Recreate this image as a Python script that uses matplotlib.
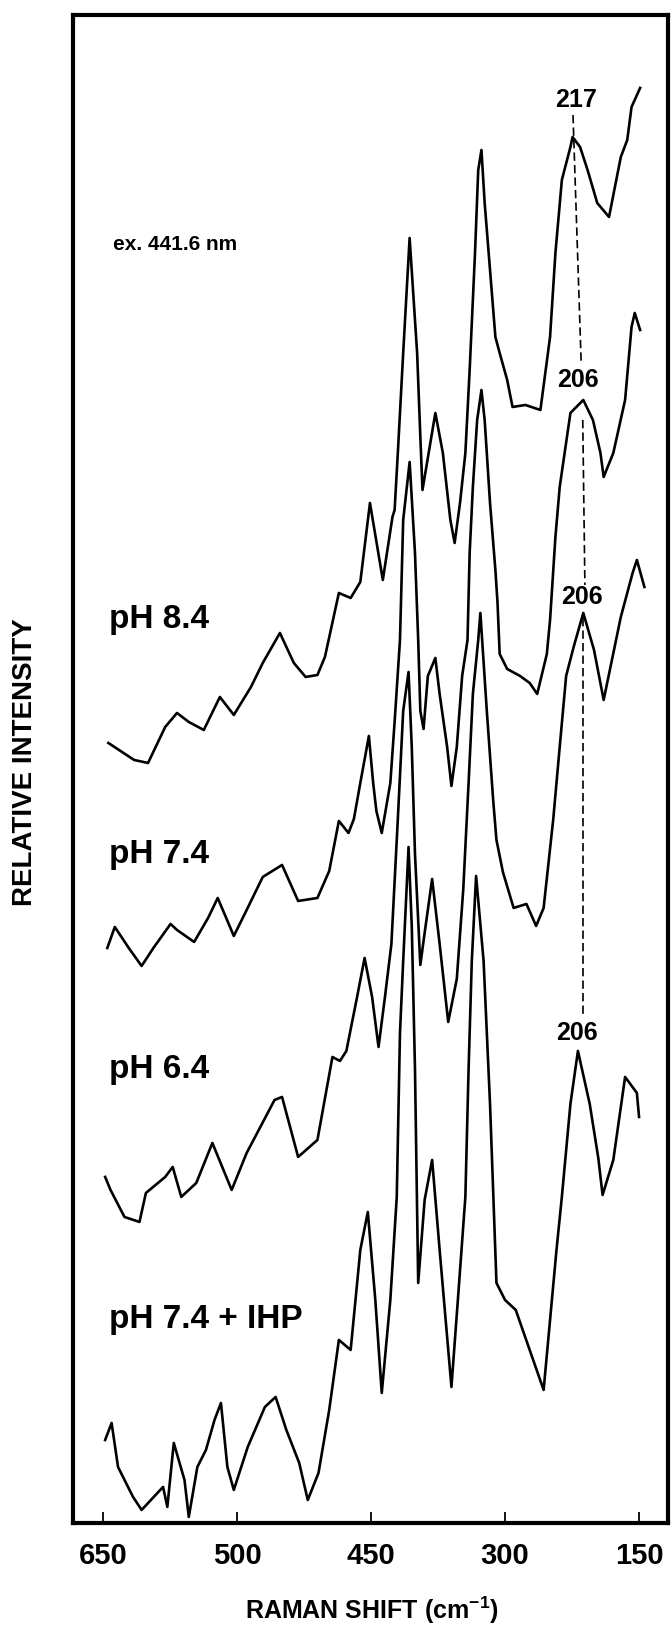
import matplotlib
matplotlib.use('Agg')
import matplotlib.pyplot as plt

# Raman shift (cm-1) / relative intensity
wn_a = [645, 621, 608, 592, 581, 570, 556, 541, 528, 512, 501, 485, 472, 461, 450, 443, 430, 419, 410, 401,
        389, 380, 378, 375, 370, 364, 357, 354, 352, 340, 333, 326, 322, 317, 312, 308, 303, 300, 297, 294,
        289, 284, 280, 273, 268, 256, 242, 233, 228, 222, 214, 212, 205, 198, 189, 178, 167, 161, 157, 149]
int_a = [780, 763, 760, 796, 810, 801, 793, 826, 808, 836, 860, 890, 860, 846, 848, 866, 930, 925, 941, 1020,
         943, 1006, 1013, 1070, 1170, 1285, 1170, 1086, 1033, 1110, 1070, 1003, 980, 1020, 1070, 1153, 1270, 1353, 1373, 1320,
         1253, 1186, 1170, 1143, 1116, 1118, 1113, 1186, 1270, 1343, 1376, 1386, 1376, 1353, 1320, 1306, 1366, 1383, 1416, 1435]

wn_b = [646, 639, 626, 614, 603, 587, 581, 565, 552, 543, 528, 516, 501, 483, 468, 450, 439, 430, 421, 416,
        410, 402, 398, 395, 390, 382, 378, 373, 370, 364, 359, 356, 354, 351, 347, 340, 336, 329, 325, 320,
        315, 310, 308, 305, 301, 297, 294, 289, 284, 282, 280, 273, 261, 252, 245, 236, 233, 228, 224, 214,
        202, 193, 186, 183, 174, 163, 157, 154, 149]
int_b = [575, 596, 575, 557, 575, 599, 593, 581, 605, 625, 587, 613, 646, 658, 622, 625, 652, 702, 690, 704,
         740, 787, 740, 712, 690, 740, 801, 883, 1003, 1061, 970, 883, 812, 794, 847, 865, 829, 776, 737, 776,
         847, 883, 970, 1036, 1103, 1133, 1103, 1020, 953, 920, 869, 854, 847, 840, 829, 869, 903, 986, 1036, 1110,
         1123, 1103, 1070, 1046, 1070, 1123, 1196, 1210, 1193]

wn_c = [648, 643, 630, 616, 610, 592, 585, 577, 563, 548, 530, 516, 490, 483, 468, 450, 436, 429, 423, 413,
        406, 399, 393, 387, 381, 375, 370, 365, 362, 359, 354, 350, 343, 336, 328, 320, 314, 309, 305, 300,
        298, 292, 286, 283, 277, 267, 255, 246, 239, 230, 224, 218, 211, 202, 192, 183, 167, 156, 152, 145]
int_c = [346, 333, 306, 301, 330, 346, 356, 326, 340, 380, 333, 370, 423, 426, 366, 383, 466, 462, 472, 526,
         565, 526, 476, 526, 579, 704, 812, 851, 776, 669, 558, 590, 644, 579, 501, 544, 633, 740, 829, 883,
         910, 812, 722, 683, 651, 615, 619, 597, 615, 704, 776, 847, 876, 910, 873, 823, 906, 950, 963, 936]

wn_d = [648, 642, 636, 622, 614, 594, 590, 584, 574, 570, 562, 554, 546, 540, 534, 528, 515, 499, 489, 479,
        467, 459, 449, 439, 430, 419, 410, 403, 396, 390, 382, 376, 373, 370, 365, 362, 359, 356, 350, 343,
        336, 325, 319, 312, 309, 306, 302, 295, 289, 283, 275, 265, 252, 239, 233, 227, 222, 214, 207, 196,
        188, 184, 174, 163, 152, 150]
int_d = [83, 100, 56, 26, 13, 36, 16, 80, 43, 6, 56, 73, 103, 120, 56, 33, 76, 116, 126, 93,
         60, 23, 50, 113, 183, 173, 273, 311, 223, 130, 223, 326, 490, 562, 676, 597, 454, 240, 323, 363,
         273, 136, 223, 326, 454, 562, 647, 562, 419, 240, 223, 213, 173, 133, 203, 273, 326, 419, 472, 419,
         365, 328, 363, 446, 430, 406]

# axis ticks (the printed labels are what the figure shows)
tick_pos = [650, 525, 400, 275, 150]
tick_labels = ['650', '500', '450', '300', '150']

trace_labels = ['pH 8.4', 'pH 7.4', 'pH 6.4', 'pH 7.4 + IHP']
trace_label_y = [903, 668, 453, 203]

# peak annotations: text, x, y
peak_text = ['217', '206', '206', '206']
peak_text_x = [209, 207, 203, 208]
peak_text_y = [1423, 1143, 926, 490]

# dashed guide through the Fe-His band
guide_x = [[211.6, 204.0], [202.5, 200.5], [202.0, 202.0]]
guide_y = [[1408, 1161], [1103, 938], [905, 505]]

plt.rcParams['font.family'] = ['Liberation Sans', 'DejaVu Sans']
plt.rcParams['mathtext.fontset'] = 'custom'
plt.rcParams['mathtext.rm'] = 'Liberation Sans:bold'
plt.rcParams['mathtext.bf'] = 'Liberation Sans:bold'
plt.rcParams['mathtext.default'] = 'bf'

fig = plt.figure(figsize=(6.71, 16.29), dpi=100)
ax = fig.add_axes([0.1088, 0.0651, 0.8867, 0.9257])

for wn, inten in [(wn_a, int_a), (wn_b, int_b), (wn_c, int_c), (wn_d, int_d)]:
    ax.plot(wn, inten, color='black', lw=1.9, solid_joinstyle='round')

for gx, gy in zip(guide_x, guide_y):
    ax.plot(gx, gy, color='black', lw=1.2, linestyle=(0, (5, 2.5)))

for lab, y in zip(trace_labels, trace_label_y):
    ax.text(644, y, lab, fontsize=24, fontweight='bold', ha='left', va='center')

for t, x, y in zip(peak_text, peak_text_x, peak_text_y):
    ax.text(x, y, t, fontsize=18, fontweight='bold', ha='center', va='center')

ax.text(641, 1278, 'ex. 441.6 nm', fontsize=15, fontweight='bold', ha='left', va='center')

ax.set_xlim(678, 123)
ax.set_ylim(0, 1508)
ax.set_xticks(tick_pos)
ax.set_xticklabels(tick_labels, fontsize=21, fontweight='bold')
ax.tick_params(axis='x', direction='in', length=8, width=1.3, pad=14)
ax.set_yticks([])
for s in ax.spines.values():
    s.set_linewidth(3)

fig.text(0.5544, 0.0117, 'RAMAN SHIFT (cm$^{-1}$)', fontsize=18, fontweight='bold', ha='center', va='center')
fig.text(0.0373, 0.5322, 'RELATIVE INTENSITY', fontsize=20, fontweight='bold', rotation=90,
         ha='center', va='center')

fig.savefig('out.png', dpi=100)
